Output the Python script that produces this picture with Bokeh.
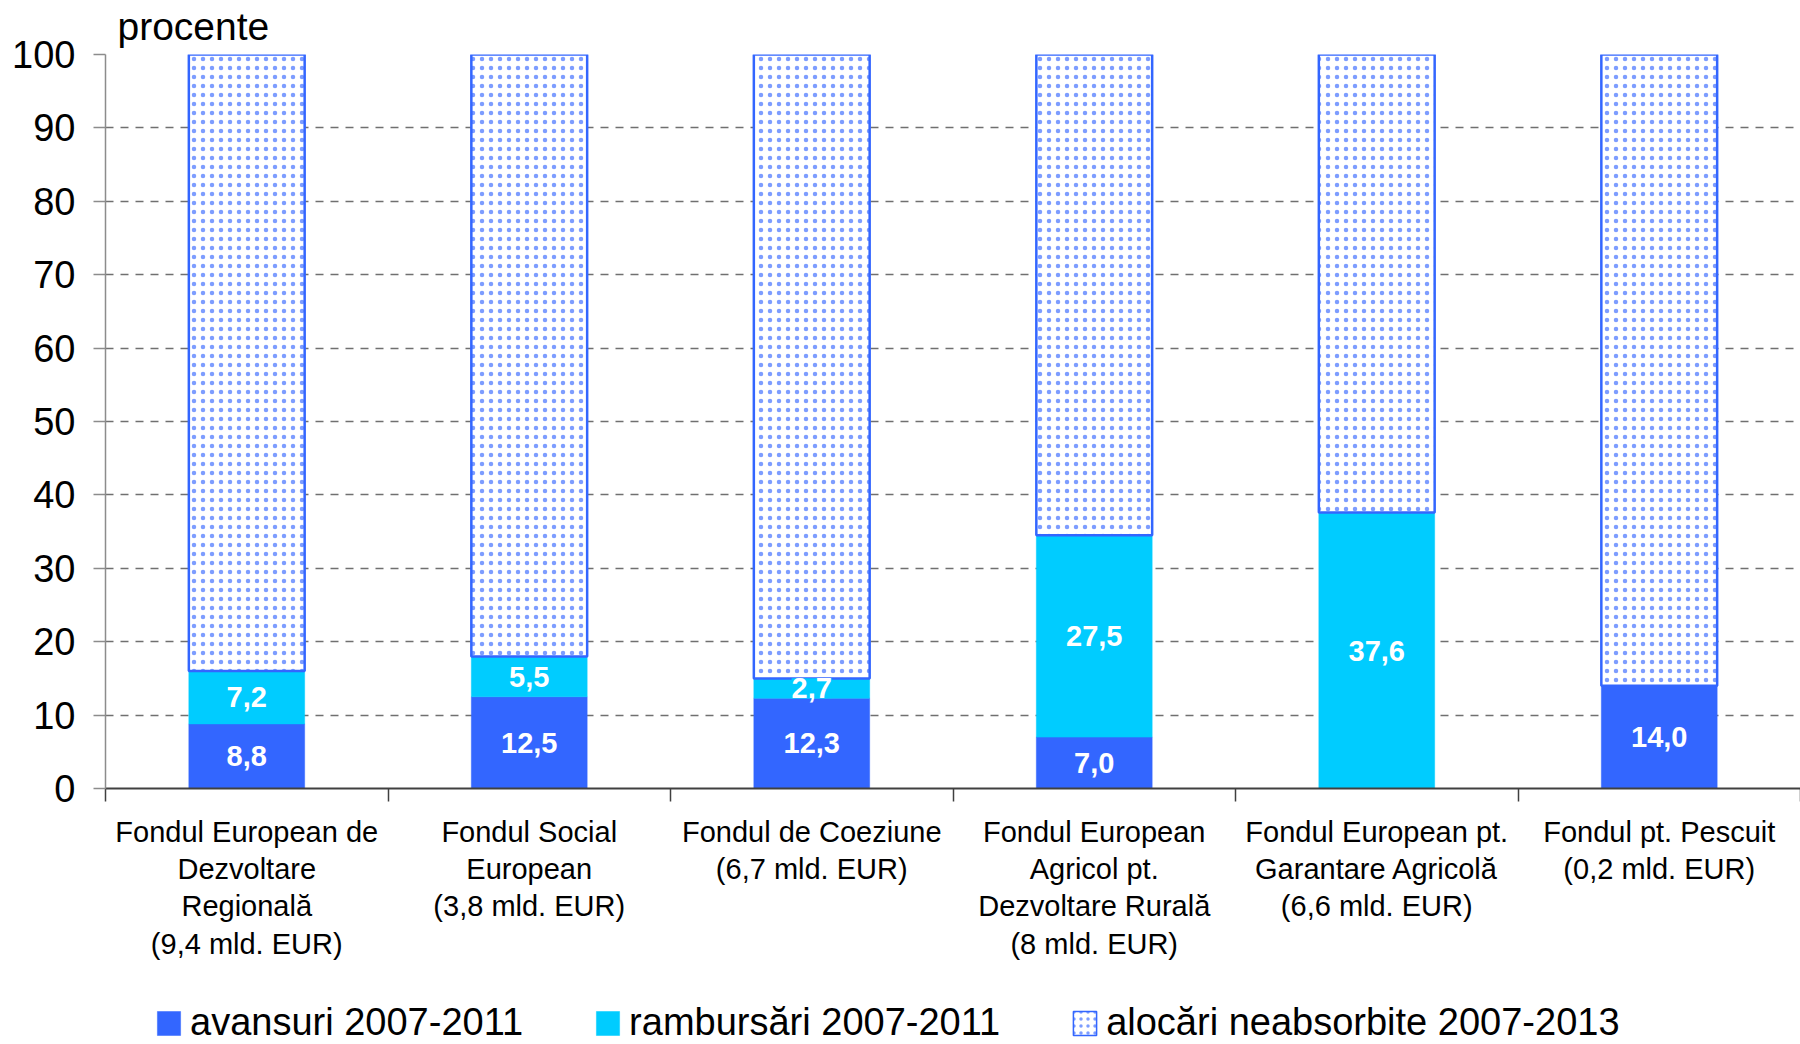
from bokeh.plotting import figure
from bokeh.layouts import column
from bokeh.models import (ColumnDataSource, Range1d, FixedTicker, LabelSet,
                          Legend, LegendItem)
from bokeh.core.properties import value
from bokeh.embed import file_html
from bokeh.resources import INLINE

# ---------------- data ----------------
funds = [
    "Fondul European de\nDezvoltare\nRegională\n(9,4 mld. EUR)",
    "Fondul Social\nEuropean\n(3,8 mld. EUR)",
    "Fondul de Coeziune\n(6,7 mld. EUR)",
    "Fondul European\nAgricol pt.\nDezvoltare Rurală\n(8 mld. EUR)",
    "Fondul European pt.\nGarantare Agricolă\n(6,6 mld. EUR)",
    "Fondul pt. Pescuit\n(0,2 mld. EUR)",
]
avansuri = [8.8, 12.5, 12.3, 7.0, 0.0, 14.0]
rambursari = [7.2, 5.5, 2.7, 27.5, 37.6, 0.0]
y_ticks = [0, 10, 20, 30, 40, 50, 60, 70, 80, 90, 100]
series_names = ["avansuri 2007-2011", "rambursări 2007-2011",
                "alocări neabsorbite 2007-2013"]
y_title = "procente"

# -------------- derived ---------------
n = len(funds)
xs = [i + 0.5 for i in range(n)]
ramb_top = [a + r for a, r in zip(avansuri, rambursari)]

src = ColumnDataSource(dict(x=xs, a=avansuri, rb=list(avansuri), rt=ramb_top,
                            nt=[100.0] * n, zero=[0.0] * n))


def fmt(v):
    return f"{v:.1f}".replace(".", ",")


lab_a = ColumnDataSource(dict(
    x=[x for x, v in zip(xs, avansuri) if v > 0],
    y=[v / 2 for v in avansuri if v > 0],
    t=[fmt(v) for v in avansuri if v > 0]))
lab_r = ColumnDataSource(dict(
    x=[x for x, r in zip(xs, rambursari) if r > 0],
    y=[a + r / 2 for a, r in zip(avansuri, rambursari) if r > 0],
    t=[fmt(r) for r in rambursari if r > 0]))

BLUE = "#3366FF"
CYAN = "#00CCFF"
DOT = "#7d9dff"
FONT = "Liberation Sans"

p = figure(width=1800, height=990, x_range=Range1d(0, n), y_range=Range1d(0, 100),
           output_backend="svg", toolbar_location=None,
           min_border_left=105, min_border_right=0, min_border_top=54,
           min_border_bottom=202)
p.outline_line_color = None
p.background_fill_color = "white"
p.border_fill_color = "white"

# title "procente"
p.title.text = y_title
p.title.text_font = FONT
p.title.text_font_size = "39px"
p.title.text_font_style = "normal"
p.title.text_color = "black"
p.title.align = "left"
p.title.vertical_align = "top"
p.title.offset = 12
p.title.standoff = 9

# grid
p.xgrid.grid_line_color = None
p.ygrid.ticker = FixedTicker(ticks=y_ticks)
p.ygrid.grid_line_color = "#707070"
p.ygrid.grid_line_width = 1.5
p.ygrid.grid_line_dash = "8 7"

w = 0.41
bar_a = dict(fill_color=BLUE, line_color=BLUE, line_width=0.5)
bar_r = dict(fill_color=CYAN, line_color=CYAN, line_width=0.5)
bar_n = dict(fill_color="white", line_color=BLUE, line_width=2.5,
             hatch_pattern="dot", hatch_color=DOT, hatch_scale=9, hatch_weight=0.6)

p.vbar(x="x", bottom="zero", top="a", width=w, source=src, **bar_a)
p.vbar(x="x", bottom="rb", top="rt", width=w, source=src, **bar_r)
p.vbar(x="x", bottom="rt", top="nt", width=w, source=src, **bar_n)

p.add_layout(LabelSet(x="x", y="y", text="t", source=lab_a,
                      text_align="center", text_baseline="middle",
                      text_color="white", text_font=value(FONT),
                      text_font_style="bold", text_font_size="29px"))
p.add_layout(LabelSet(x="x", y="y", text="t", source=lab_r,
                      text_align="center", text_baseline="middle",
                      text_color="white", text_font=value(FONT),
                      text_font_style="bold", text_font_size="29px",
                      background_fill_color=CYAN, border_line_color=None))

# y axis
ya = p.yaxis[0]
ya.ticker = FixedTicker(ticks=y_ticks)
ya.axis_line_color = "#8c8c8c"
ya.axis_line_width = 1.5
ya.major_tick_line_color = "#8c8c8c"
ya.major_tick_line_width = 1.5
ya.major_tick_out = 12
ya.major_tick_in = 0
ya.minor_tick_line_color = None
ya.major_label_text_font = FONT
ya.major_label_text_font_size = "38px"
ya.major_label_text_color = "black"
ya.major_label_standoff = 18

# x axis: labels at centres, tick marks at boundaries
xa = p.xaxis[0]
xa.ticker = FixedTicker(ticks=xs, minor_ticks=list(range(n + 1)))
xa.major_label_overrides = {x: f for x, f in zip(xs, funds)}
xa.axis_line_color = "#404040"
xa.axis_line_width = 2
xa.major_tick_line_color = None
xa.major_tick_out = 0
xa.major_tick_in = 0
xa.minor_tick_line_color = "#404040"
xa.minor_tick_line_width = 1.5
xa.minor_tick_out = 13
xa.minor_tick_in = 0
xa.major_label_text_font = FONT
xa.major_label_text_font_size = "29px"
xa.major_label_text_line_height = 1.17
xa.major_label_text_color = "black"
xa.major_label_standoff = 14

# ---------- legend strip below (its renderers are hidden) ----------
lg = figure(width=1800, height=54, x_range=Range1d(0, n), y_range=Range1d(0, 100),
            output_backend="svg", toolbar_location=None,
            min_border_left=105, min_border_right=0, min_border_top=0,
            min_border_bottom=0)
lg.axis.visible = False
lg.grid.visible = False
lg.outline_line_color = None
lg.border_fill_color = "white"
g1 = lg.vbar(x="x", bottom="zero", top="a", width=w, source=src, **bar_a)
g2 = lg.vbar(x="x", bottom="rb", top="rt", width=w, source=src, **bar_r)
g3 = lg.vbar(x="x", bottom="rt", top="nt", width=w, source=src,
             **dict(bar_n, line_width=1.5, hatch_scale=7))
for g in (g1, g2, g3):
    g.visible = False

legend = Legend(items=[LegendItem(label=series_names[0], renderers=[g1], index=0),
                       LegendItem(label=series_names[1], renderers=[g2], index=0),
                       LegendItem(label=series_names[2], renderers=[g3], index=0)],
                orientation="horizontal", location=(49, 0),
                label_text_font=FONT, label_text_font_size="38px",
                label_text_color="black",
                glyph_width=29, glyph_height=30, label_standoff=7,
                spacing=70, padding=0, margin=0, click_policy="none",
                background_fill_alpha=0, border_line_color=None)
lg.add_layout(legend, "center")

open("out.html", "w").write(file_html(column(p, lg, spacing=0), INLINE))
